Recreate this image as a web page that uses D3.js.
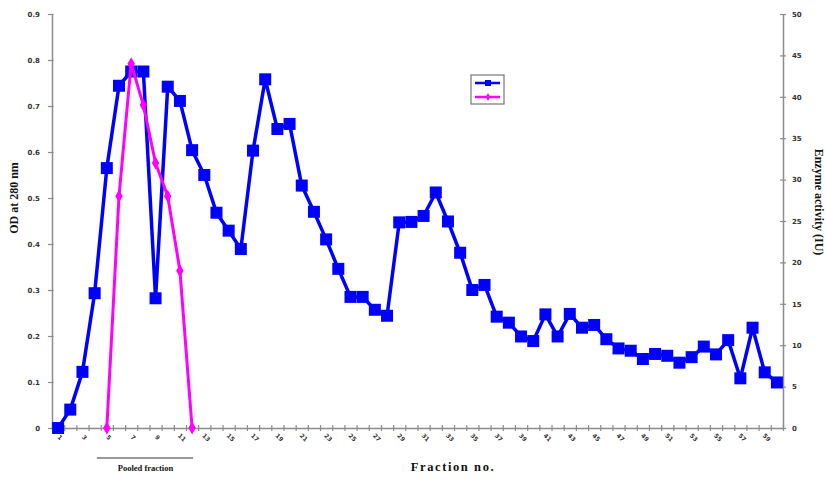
<!DOCTYPE html>
<html>
<head>
<meta charset="utf-8">
<script src="https://cdn.jsdelivr.net/npm/d3@7"></script>
<style>
  html, body { margin: 0; padding: 0; background: #fff; }
  svg { display: block; }
</style>
</head>
<body>
<svg id="chart" width="826" height="482"></svg>
<script>
// Fraction numbers collected from the column
const fractions = d3.range(1, 61);

// Protein elution profile, OD at 280 nm (left axis)
const odValues = [
  0.000, 0.040, 0.122, 0.293, 0.565, 0.744, 0.775, 0.775, 0.282, 0.742,
  0.711, 0.604, 0.550, 0.468, 0.429, 0.389, 0.603, 0.758, 0.650, 0.661,
  0.527, 0.470, 0.410, 0.346, 0.285, 0.285, 0.257, 0.244, 0.447, 0.448,
  0.461, 0.512, 0.449, 0.381, 0.300, 0.311, 0.242, 0.229, 0.199, 0.189,
  0.247, 0.199, 0.248, 0.218, 0.224, 0.193, 0.173, 0.168, 0.150, 0.161,
  0.157, 0.142, 0.154, 0.177, 0.160, 0.191, 0.108, 0.218, 0.121, 0.099
];

// Enzyme activity (IU), measured on fractions 5-12 (right axis)
const activityFractions = [5, 6, 7, 8, 9, 10, 11, 12];
const activityValues = [0, 28, 44, 39, 32, 28, 19, 0];

// Axis ticks
const odTicks = [0, 0.1, 0.2, 0.3, 0.4, 0.5, 0.6, 0.7, 0.8, 0.9];
const activityTicks = [0, 5, 10, 15, 20, 25, 30, 35, 40, 45, 50];
const fractionLabels = d3.range(1, 60, 2);

// Pooled fractions (5-12)
const pooledRange = [5, 12];

const svg = d3.select("#chart");
const plotLeft = 52, plotRight = 783, plotTop = 14, plotBottom = 428;

const x = d3.scaleLinear().domain([0.5, 60.5]).range([plotLeft, plotRight]);
const yOD = d3.scaleLinear().domain([0, 0.9]).range([plotBottom, plotTop]);
const yAct = d3.scaleLinear().domain([0, 50]).range([plotBottom, plotTop]);

const axisColor = "#8c8c8c";
const tickFont = "DejaVu Sans, sans-serif";
const serif = "Liberation Serif, Times New Roman, serif";

// Left axis
const gL = svg.append("g").attr("transform", `translate(${plotLeft},0)`)
  .call(d3.axisLeft(yOD).tickValues(odTicks).tickSize(0).tickPadding(12)
    .tickFormat(d => d === 0 ? "0" : d3.format(".1f")(d)));
gL.select(".domain").attr("stroke", axisColor).attr("stroke-width", 1.5);
gL.selectAll(".tick line").attr("x1", -4).attr("x2", 1.5).attr("stroke", axisColor).attr("stroke-width", 1.2);
gL.selectAll(".tick text").attr("font-family", tickFont).attr("font-size", 7).attr("font-weight", "bold").attr("fill", "#333");

// Right axis
const gR = svg.append("g").attr("transform", `translate(${plotRight},0)`)
  .call(d3.axisRight(yAct).tickValues(activityTicks).tickSize(0).tickPadding(9));
gR.select(".domain").attr("stroke", axisColor).attr("stroke-width", 1.5);
gR.selectAll(".tick line").attr("x1", -3).attr("x2", 3).attr("stroke", axisColor).attr("stroke-width", 1.2);
gR.selectAll(".tick text").attr("font-family", tickFont).attr("font-size", 7).attr("font-weight", "bold").attr("fill", "#333");

// Bottom axis: tick marks between categories
const gB = svg.append("g").attr("transform", `translate(0,${plotBottom})`)
  .call(d3.axisBottom(x).tickValues(d3.range(0.5, 61, 1)).tickSize(0).tickFormat(""));
gB.select(".domain").attr("stroke", axisColor).attr("stroke-width", 1.5);
gB.selectAll(".tick line").attr("y1", -3).attr("y2", 3).attr("stroke", axisColor).attr("stroke-width", 1.2);

// Bottom axis labels (odd fractions), slanted
const gBL = svg.append("g").attr("transform", `translate(0,${plotBottom})`)
  .call(d3.axisBottom(x).tickValues(fractionLabels).tickSize(0).tickFormat(d3.format("d")));
gBL.select(".domain").remove();
gBL.selectAll(".tick text")
  .attr("font-family", tickFont).attr("font-size", 6).attr("font-weight", "bold").attr("fill", "#333")
  .attr("text-anchor", "middle").attr("dy", 0).attr("y", 0)
  .attr("transform", "translate(0,11) rotate(45)");

// OD profile
const lineOD = d3.line().x((d, i) => x(fractions[i])).y(d => yOD(d));
svg.append("path").datum(odValues)
  .attr("d", lineOD).attr("fill", "none").attr("stroke", "#0000ff")
  .attr("stroke-width", 3.5).attr("stroke-linejoin", "round");
const sq = 12;
svg.append("g").selectAll("rect").data(odValues).join("rect")
  .attr("x", (d, i) => x(fractions[i]) - sq / 2)
  .attr("y", d => yOD(d) - sq / 2)
  .attr("width", sq).attr("height", sq).attr("fill", "#0000ff");

// Enzyme activity profile
const lineAct = d3.line().x((d, i) => x(activityFractions[i])).y(d => yAct(d));
svg.append("path").datum(activityValues)
  .attr("d", lineAct).attr("fill", "none").attr("stroke", "#ff00ff")
  .attr("stroke-width", 3).attr("stroke-linejoin", "round");
const diamond = d3.symbol().type(d3.symbolDiamond).size(48);
svg.append("g").selectAll("path").data(activityValues).join("path")
  .attr("d", diamond)
  .attr("transform", (d, i) => `translate(${x(activityFractions[i])},${yAct(d)})`)
  .attr("fill", "#ff00ff");

// Legend box (markers only)
const lg = svg.append("g").attr("transform", "translate(471,75)");
lg.append("rect").attr("width", 33).attr("height", 29)
  .attr("fill", "#fff").attr("stroke", "#777").attr("stroke-width", 1.2);
lg.append("line").attr("x1", 4).attr("x2", 29).attr("y1", 8).attr("y2", 8)
  .attr("stroke", "#0000ff").attr("stroke-width", 2.5);
lg.append("rect").attr("x", 14).attr("y", 5).attr("width", 6).attr("height", 6).attr("fill", "#0000ff");
lg.append("line").attr("x1", 4).attr("x2", 29).attr("y1", 22).attr("y2", 22)
  .attr("stroke", "#ff00ff").attr("stroke-width", 2.5);
lg.append("path").attr("d", d3.symbol().type(d3.symbolDiamond).size(18))
  .attr("transform", "translate(17,22)").attr("fill", "#ff00ff");

// Pooled fraction bracket
svg.append("line")
  .attr("x1", x(pooledRange[0]) - 10).attr("x2", x(pooledRange[1]) + 1)
  .attr("y1", 458).attr("y2", 458).attr("stroke", "#333").attr("stroke-width", 1);
svg.append("text")
  .attr("x", (x(pooledRange[0]) + x(pooledRange[1])) / 2 - 4).attr("y", 471)
  .attr("text-anchor", "middle").attr("font-family", serif).attr("font-weight", "bold")
  .attr("font-size", 8.5).attr("fill", "#111").text("Pooled fraction");

// Axis titles
svg.append("text")
  .attr("x", 453).attr("y", 471).attr("text-anchor", "middle")
  .attr("font-family", serif).attr("font-weight", "bold").attr("font-size", 12.5)
  .attr("letter-spacing", 1.6).attr("fill", "#111").text("Fraction no.");
svg.append("text")
  .attr("transform", "translate(18,198) rotate(-90)").attr("text-anchor", "middle")
  .attr("font-family", serif).attr("font-weight", "bold").attr("font-size", 12)
  .attr("fill", "#111").text("OD at 280 nm");
svg.append("text")
  .attr("transform", "translate(815,202) rotate(90)").attr("text-anchor", "middle")
  .attr("font-family", serif).attr("font-weight", "bold").attr("font-size", 12)
  .attr("fill", "#111").text("Enzyme activity (IU)");
</script>
</body>
</html>
